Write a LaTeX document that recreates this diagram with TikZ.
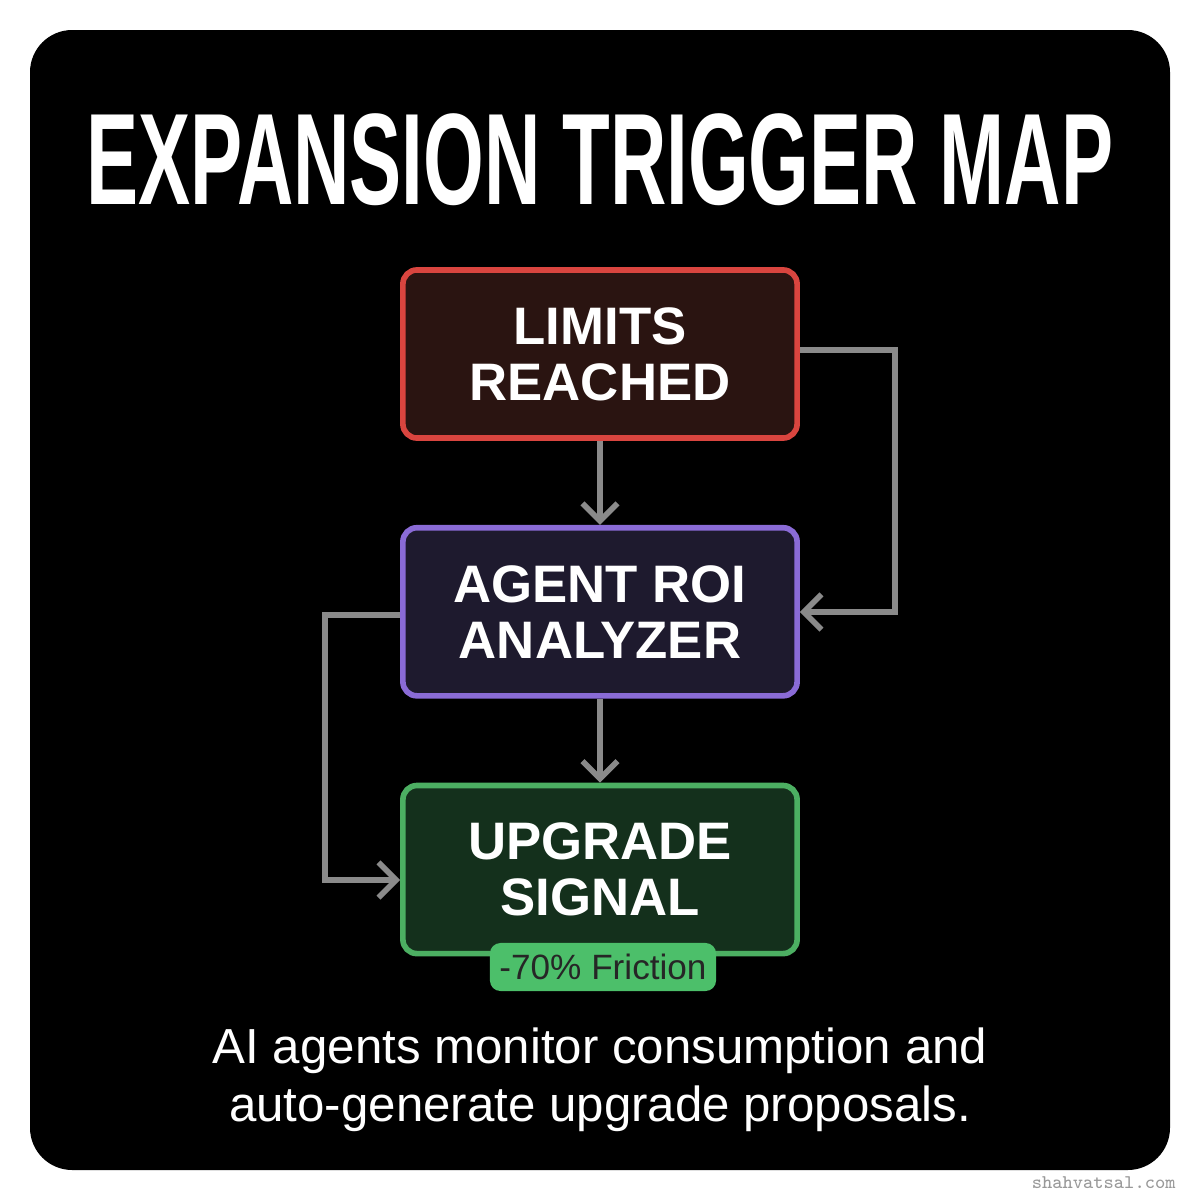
\documentclass[tikz,border=0pt]{standalone}
\usepackage{fontspec}
\setmainfont{Liberation Sans}
\newfontfamily\titlefont[FakeStretch=0.6]{Liberation Sans}
\usetikzlibrary{positioning,arrows.meta}
\definecolor{limfill}{HTML}{2A1411}
\definecolor{limline}{HTML}{D9453F}
\definecolor{agtfill}{HTML}{1E1A2E}
\definecolor{agtline}{HTML}{8A6BD6}
\definecolor{upfill}{HTML}{14301C}
\definecolor{upline}{HTML}{4CAF62}
\definecolor{badge}{HTML}{4CBF6A}
\definecolor{link}{HTML}{8A8A8A}
\begin{document}
\begin{tikzpicture}[x=0.01cm,y=-0.01cm,
  box/.style={draw,line width=1.6pt,rounded corners=4pt,minimum width=3.94cm,
    minimum height=1.68cm,align=center,text=white,font=\bfseries\fontsize{15}{16}\selectfont},
  flow/.style={->,>={Straight Barb[length=5pt,width=10pt]},draw=link,line width=1.6pt}]
\useasboundingbox (0,0) rectangle (1200,1200);
\fill[white] (0,0) rectangle (1200,1200);
\fill[black,rounded corners=12pt] (30,30) rectangle (1170,1170);
\node[text=white,font=\titlefont\bfseries\fontsize{37}{40}\selectfont] (title) at (600,160) {EXPANSION TRIGGER MAP};

\node[box,draw=limline,fill=limfill] (lim) at (600,354) {LIMITS\\REACHED};
\node[box,draw=agtline,fill=agtfill,below=0.84cm of lim] (agt) {AGENT ROI\\ANALYZER};
\node[box,draw=upline,fill=upfill,below=0.84cm of agt] (up) {UPGRADE\\SIGNAL};
\node[fill=badge,rounded corners=3pt,minimum width=2.26cm,minimum height=0.48cm,inner sep=2pt,
  font=\fontsize{10}{12}\selectfont,text=black!85] (fric) at (603,967) {-70\% Friction};

\draw[flow] (lim) -- (agt);
\draw[flow] (agt) -- (up);
\draw[flow] (lim.east |- 0,350) -| (895,612) -- (agt.east |- 0,612);
\draw[flow] (agt.west |- 0,615) -| (325,880) -- (up.west |- 0,880);

\node[text=white,align=center,font=\fontsize{14}{16.5}\selectfont] (note) at (600,1080)
  {AI agents monitor consumption and\\auto-generate upgrade proposals.};
\node[text=black!40,font=\ttfamily\fontsize{5.5}{7}\selectfont,anchor=east] (mark) at (1188,1183) {shahvatsal.com};
\end{tikzpicture}
\end{document}
